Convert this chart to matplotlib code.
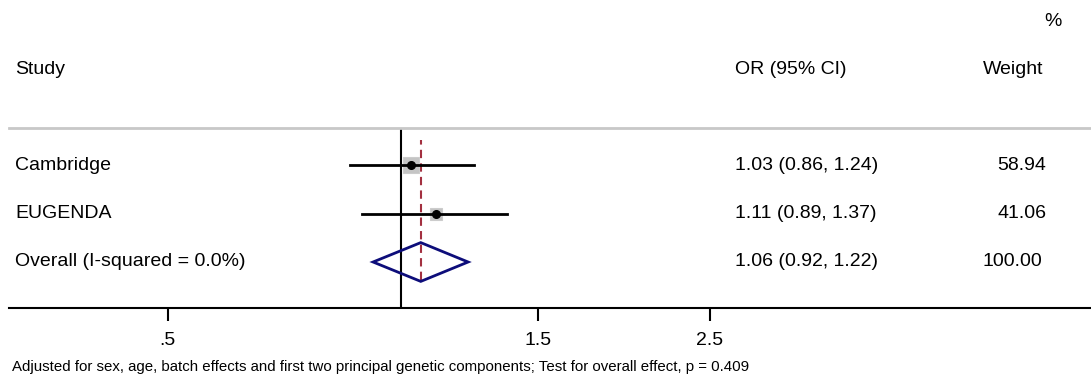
import numpy as np
import matplotlib.pyplot as plt
import matplotlib.transforms as mtransforms
from matplotlib.patches import Polygon

plt.rcParams['font.family'] = ['Liberation Sans', 'DejaVu Sans']

studies = ['Cambridge', 'EUGENDA']
odds = [1.03, 1.11]
ci_low = [0.86, 0.89]
ci_high = [1.24, 1.37]
weights = [58.94, 41.06]

overall_label = 'Overall (I-squared = 0.0%)'
overall_or = 1.06
overall_low = 0.92
overall_high = 1.22

tick_vals = [0.5, 1.5, 2.5]
tick_labels = ['.5', '1.5', '2.5']

W, H = 1091, 377
fig = plt.figure(figsize=(W / 100, H / 100), dpi=100)
ax = fig.add_axes([9 / W, 1 - 308 / H, (W - 9) / W, 180 / H])
ax.set_xscale('log')
ax.set_xlim(0.312, 7.76)
row_px = 48.5
ax.set_ylim(-46 / row_px, 134 / row_px)

rows = np.arange(len(studies), 0, -1)  # top to bottom
for y, o, lo, hi, w in zip(rows, odds, ci_low, ci_high, weights):
    ax.plot(o, y, 's', color='#c4c4c4', markeredgewidth=0.8, markeredgecolor='#cccccc',
            markersize=1.45 * np.sqrt(w), zorder=2)
    ax.plot([lo, hi], [y, y], color='black', lw=2, zorder=3)
    ax.plot(o, y, 'o', color='black', markersize=5.5, zorder=4)

dh = 0.4
ax.add_patch(Polygon([(overall_low, 0), (overall_or, dh), (overall_high, 0), (overall_or, -dh)],
                     closed=True, fill=False, edgecolor='#0d0d7a', lw=2, zorder=3))
ax.plot([overall_or, overall_or], [-0.37, 2.52], color='#a33040', lw=1.5,
        dashes=(4, 2.5), zorder=1)
ax.axvline(1, color='black', lw=1.5, zorder=2)

for s in ['left', 'right']:
    ax.spines[s].set_visible(False)
ax.spines['top'].set_color('#c8c8c8')
ax.spines['top'].set_linewidth(2)
ax.spines['bottom'].set_linewidth(1.5)
ax.set_yticks([])
ax.set_xticks(tick_vals)
ax.set_xticklabels(tick_labels, fontsize=14)
ax.xaxis.set_minor_locator(plt.NullLocator())
ax.tick_params(axis='x', direction='out', length=9, width=1.5, pad=8)

tr = mtransforms.blended_transform_factory(fig.transFigure, ax.transData)
fs = 14
for y, name, o, lo, hi, w in zip(rows, studies, odds, ci_low, ci_high, weights):
    ax.text(15 / W, y, name, transform=tr, fontsize=fs, va='center', ha='left')
    ax.text(735 / W, y, f'{o:.2f} ({lo:.2f}, {hi:.2f})', transform=tr, fontsize=fs,
            va='center', ha='left')
    ax.text(1046 / W, y, f'{w:.2f}', transform=tr, fontsize=fs, va='center', ha='right')
ax.text(15 / W, 0, overall_label, transform=tr, fontsize=fs, va='center', ha='left')
ax.text(735 / W, 0, f'{overall_or:.2f} ({overall_low:.2f}, {overall_high:.2f})',
        transform=tr, fontsize=fs, va='center', ha='left')
ax.text(1042 / W, 0, f'{sum(weights):.2f}', transform=tr, fontsize=fs, va='center', ha='right')

fig.text(15 / W, 1 - 70 / H, 'Study', fontsize=fs, va='center', ha='left')
fig.text(735 / W, 1 - 70 / H, 'OR (95% CI)', fontsize=fs, va='center', ha='left')
fig.text(983 / W, 1 - 70 / H, 'Weight', fontsize=fs, va='center', ha='left')
fig.text(1062 / W, 1 - 22 / H, '%', fontsize=fs, va='center', ha='right')
fig.text(12 / W, 1 - 367 / H,
         'Adjusted for sex, age, batch effects and first two principal genetic components; '
         'Test for overall effect, p = 0.409', fontsize=10.8, va='center', ha='left')

fig.savefig('out.png', dpi=100)
